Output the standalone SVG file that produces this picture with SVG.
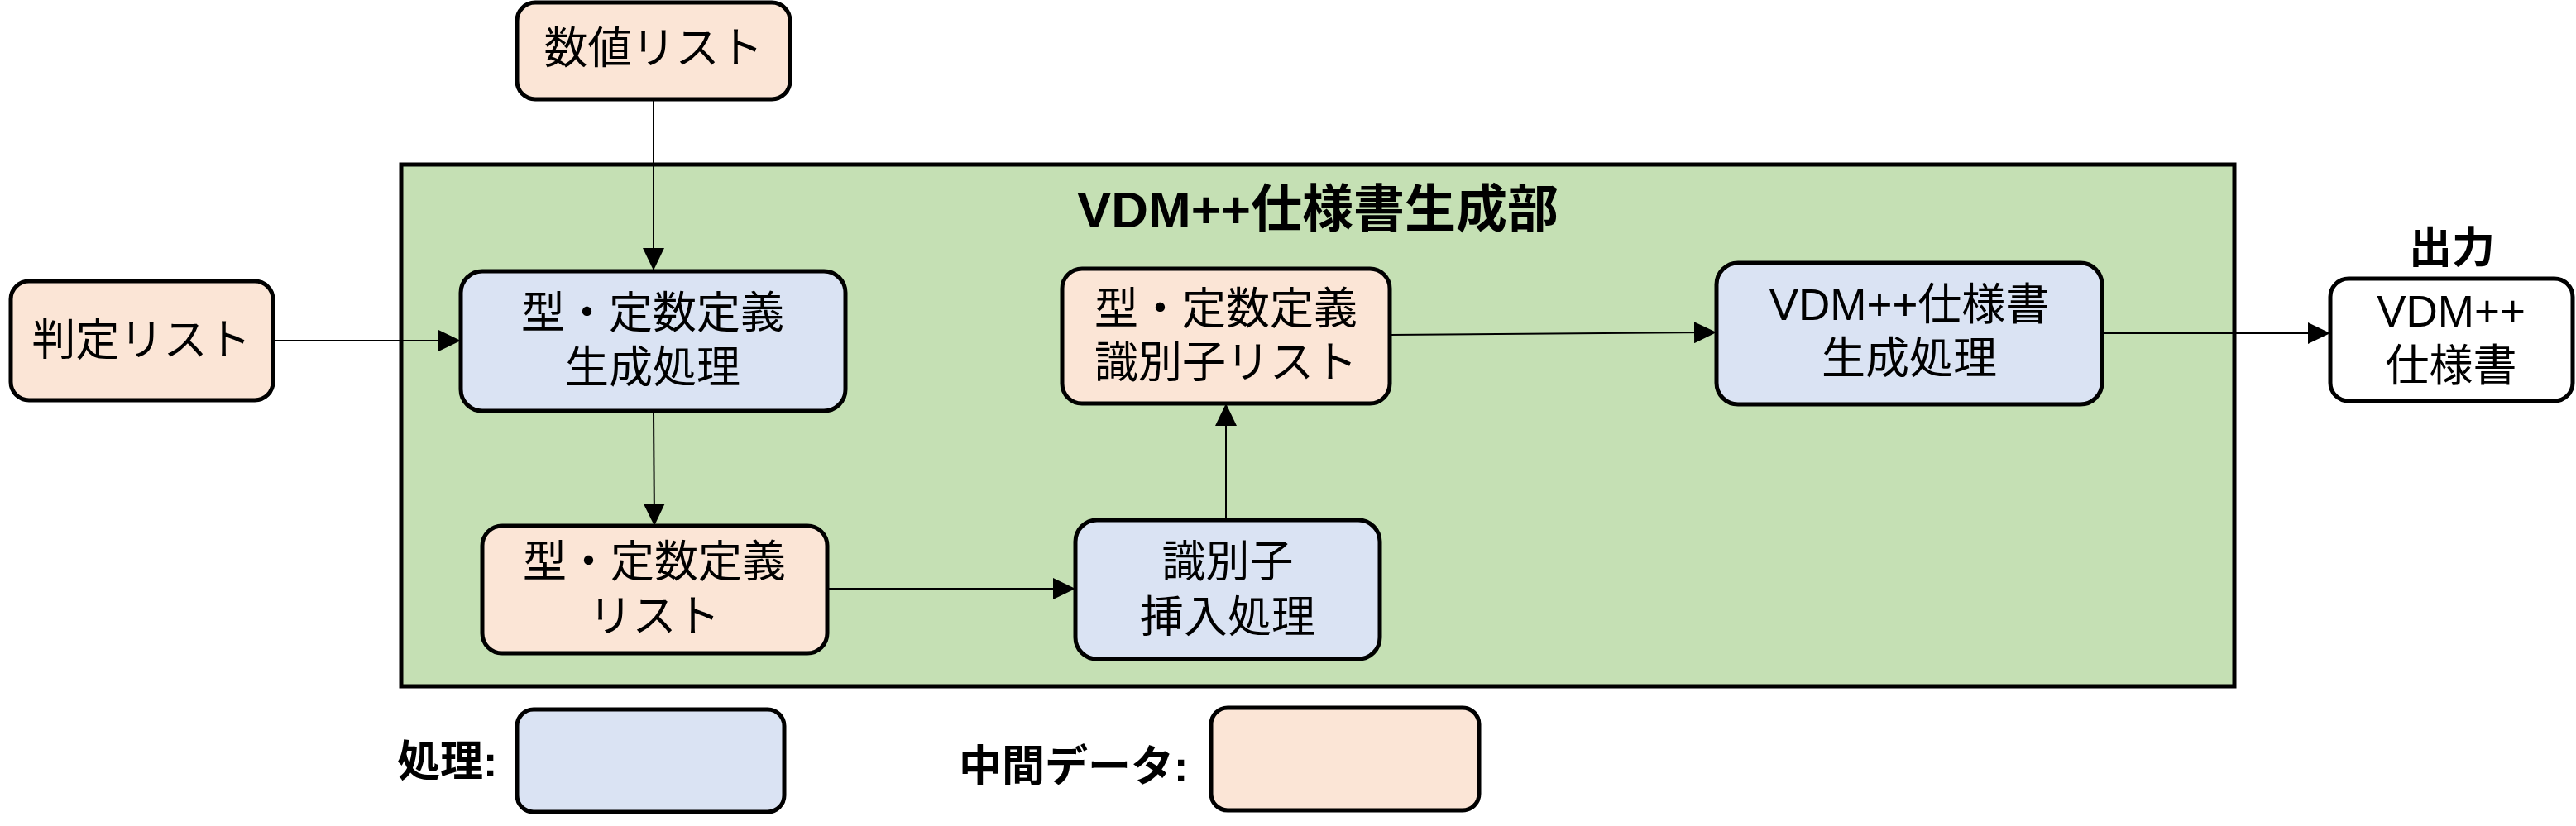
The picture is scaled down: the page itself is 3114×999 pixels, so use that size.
<svg xmlns="http://www.w3.org/2000/svg" width="3114" height="999" viewBox="0 0 3114 999">
<style>
.box{stroke:#000;stroke-width:5}
.proc{fill:#dae3f3}
.data{fill:#fbe5d6}
.out{fill:#ffffff}
.t{font-family:"Liberation Sans","Noto Sans CJK JP",sans-serif;font-size:53px;fill:#000;text-anchor:middle}
.b{font-family:"Liberation Sans","Noto Sans CJK JP",sans-serif;font-weight:bold;fill:#000}
.c{fill:none;stroke:#000;stroke-width:2}
</style>
<defs>
<marker id="arr" markerUnits="userSpaceOnUse" markerWidth="28" markerHeight="26" refX="27" refY="13" orient="auto">
<path d="M0,0 L27,13 L0,26 z" fill="#000"/>
</marker>
</defs>
<rect width="3114" height="999" fill="#fff"/>
<g id="container">
<rect x="485" y="199" width="2216" height="631" fill="#c5e0b4" stroke="#000" stroke-width="5"/>
<text class="b" x="1593" y="275" font-size="62" text-anchor="middle">VDM++仕様書生成部</text>
</g>
<g id="connectors">
<path class="c" d="M790,120 L790,327" marker-end="url(#arr)"/>
<path class="c" d="M330,412 L557,412" marker-end="url(#arr)"/>
<path class="c" d="M790,497 L791,636" marker-end="url(#arr)"/>
<path class="c" d="M1000,712 L1300,712" marker-end="url(#arr)"/>
<path class="c" d="M1482,629 L1482,488" marker-end="url(#arr)"/>
<path class="c" d="M1680,405 L2075,402" marker-end="url(#arr)"/>
<path class="c" d="M2541,403 L2817,403" marker-end="url(#arr)"/>
</g>
<g id="numlist">
<rect class="box data" x="625" y="3" width="330" height="117" rx="22"/>
<text class="t" x="790" y="77">数値リスト</text>
</g>
<g id="judgelist">
<rect class="box data" x="13" y="340" width="317" height="144" rx="22"/>
<text class="t" x="171" y="430">判定リスト</text>
</g>
<g id="gen-typedef">
<rect class="box proc" x="557" y="328" width="465" height="169" rx="26"/>
<text class="t" x="789" y="397">型・定数定義</text>
<text class="t" x="789" y="463">生成処理</text>
</g>
<g id="typedef-list">
<rect class="box data" x="583" y="636" width="417" height="154" rx="24"/>
<text class="t" x="791" y="698">型・定数定義</text>
<text class="t" x="791" y="764">リスト</text>
</g>
<g id="id-insert">
<rect class="box proc" x="1300" y="629" width="368" height="168" rx="26"/>
<text class="t" x="1484" y="698">識別子</text>
<text class="t" x="1484" y="765">挿入処理</text>
</g>
<g id="id-list">
<rect class="box data" x="1284" y="325" width="396" height="163" rx="24"/>
<text class="t" x="1482" y="392">型・定数定義</text>
<text class="t" x="1482" y="457">識別子リスト</text>
</g>
<g id="gen-vdm">
<rect class="box proc" x="2075" y="318" width="466" height="171" rx="26"/>
<text class="t" x="2308" y="387">VDM++仕様書</text>
<text class="t" x="2308" y="452">生成処理</text>
</g>
<g id="output">
<text class="b" x="2964" y="318" font-size="52" text-anchor="middle">出力</text>
<rect class="box out" x="2817" y="337" width="293" height="148" rx="22"/>
<text class="t" x="2963" y="395">VDM++</text>
<text class="t" x="2963" y="461">仕様書</text>
</g>
<g id="legend-proc">
<text class="b" x="480" y="939" font-size="52">処理:</text>
<rect class="box proc" x="625" y="858" width="323" height="124" rx="20"/>
</g>
<g id="legend-data">
<text class="b" x="1159" y="945" font-size="52">中間データ:</text>
<rect class="box data" x="1464" y="856" width="324" height="124" rx="20"/>
</g>
</svg>
